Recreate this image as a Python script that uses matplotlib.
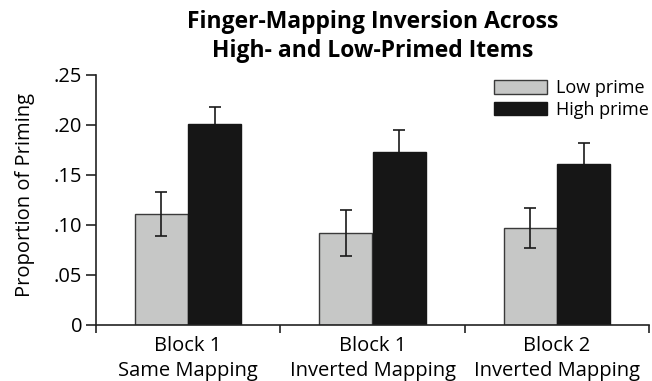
import matplotlib
matplotlib.use("Agg")
import matplotlib.pyplot as plt
import numpy as np

plt.rcParams['font.family'] = ['Open Sans', 'DejaVu Sans']

categories = ["Block 1\nSame Mapping", "Block 1\nInverted Mapping", "Block 2\nInverted Mapping"]
low_prime = [0.111, 0.092, 0.097]
low_err = [0.022, 0.023, 0.020]
high_prime = [0.201, 0.173, 0.161]
high_err = [0.017, 0.022, 0.021]
yticks = [0, 0.05, 0.10, 0.15, 0.20, 0.25]
ytick_labels = ["0", ".05", ".10", ".15", ".20", ".25"]

fig = plt.figure(figsize=(6.52, 3.81), dpi=100)
ax = fig.add_axes([96/652, 56/381, 553/652, 250/381])

x = np.arange(len(categories))
w = 0.288
off = 0.145
ax.bar(x - off, low_prime, w, color="#c6c7c6", edgecolor="#3a3a3a", linewidth=1.0,
       label="Low prime", zorder=2)
ax.bar(x + off, high_prime, w, color="#161616", edgecolor="#161616", linewidth=1.0,
       label="High prime", zorder=2)
ax.errorbar(x - off, low_prime, yerr=low_err, fmt="none", ecolor="#1a1a1a",
            elinewidth=1.2, capsize=4, capthick=1.2, zorder=3)
ax.errorbar(x + off, high_prime, yerr=high_err, fmt="none", ecolor="#1a1a1a",
            elinewidth=1.2, capsize=4, capthick=1.2, zorder=1)

ax.set_xlim(-0.5, len(categories) - 0.5)
ax.set_ylim(0, 0.25)
ax.set_yticks(yticks)
ax.set_yticklabels(ytick_labels, fontsize=14.5)
ax.set_xticks(x)
ax.set_xticklabels(categories, fontsize=14.5, linespacing=1.3)
ax.tick_params(axis="x", which="major", length=0, pad=8)
ax.set_xticks(np.arange(-0.5, len(categories)), minor=True)
ax.tick_params(axis="x", which="minor", length=6, width=1.2, color="#222222")
ax.tick_params(axis="y", length=7, width=1.2, color="#222222", pad=3)

for s in ["top", "right"]:
    ax.spines[s].set_visible(False)
for s in ["left", "bottom"]:
    ax.spines[s].set_linewidth(1.2)
    ax.spines[s].set_color("#222222")

ax.set_ylabel("Proportion of Priming", fontsize=14.5)
ax.yaxis.set_label_coords(-0.11, 0.52)
ax.set_title("Finger-Mapping Inversion Across\nHigh- and Low-Primed Items",
             fontsize=16.5, fontweight="bold", pad=13, linespacing=1.3)

leg = ax.legend(loc="upper right", bbox_to_anchor=(1.012, 1.012), frameon=False,
                fontsize=13, handlelength=2.9, handleheight=0.8,
                handletextpad=0.5, labelspacing=0.2, borderaxespad=0.0)

fig.savefig("out.png", dpi=100)
